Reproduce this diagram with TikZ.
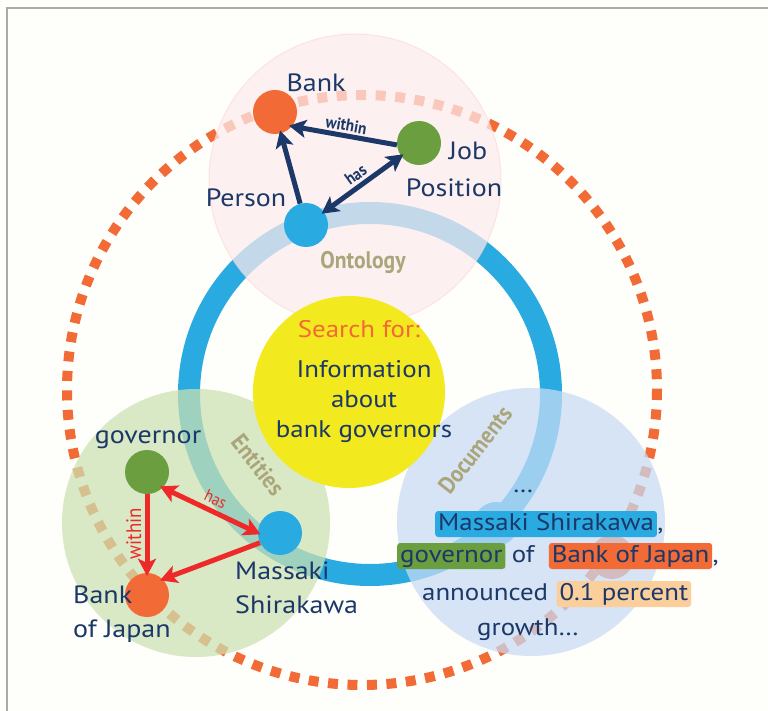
\documentclass[tikz,border=0pt]{standalone}
\usepackage{fontspec}
\setmainfont[FakeStretch=1.12]{PT Sans}
\newfontfamily\narrowfont[FakeStretch=0.9]{PT Sans}
\usetikzlibrary{arrows.meta,positioning}

\definecolor{paper}{RGB}{254,254,250}
\definecolor{framegray}{RGB}{170,170,170}
\definecolor{navy}{RGB}{27,56,104}
\definecolor{ringblue}{RGB}{41,171,226}
\definecolor{bankorange}{RGB}{242,106,53}
\definecolor{jobgreen}{RGB}{106,158,62}
\definecolor{relred}{RGB}{237,41,41}
\definecolor{queryyellow}{RGB}{242,233,30}
\definecolor{ontopink}{RGB}{253,235,237}
\definecolor{entgreen}{RGB}{204,225,178}
\definecolor{docblue}{RGB}{200,219,244}
\definecolor{tagkhaki}{RGB}{170,165,122}
\definecolor{paleorange}{RGB}{251,207,155}

\tikzset{
  >={Stealth[length=17pt,width=18pt,inset=4pt]},
  concept/.style={circle,minimum size=44pt,inner sep=0pt},
  area/.style={fill opacity=0.73},
  lbl/.style={text=navy,font=\fontsize{25}{34}\selectfont,inner sep=0pt,align=left},
  query/.style={font=\fontsize{24}{30}\selectfont,inner sep=0pt,align=center},
  doctext/.style={text=navy,font=\fontsize{24}{34}\selectfont,inner sep=0pt},
  hl/.style={doctext,rounded corners=3pt,inner xsep=3pt,inner ysep=2pt,
    text height=17pt,text depth=5pt},
  ringtag/.style={text=tagkhaki,font=\narrowfont\bfseries\fontsize{24}{24}\selectfont,inner sep=0pt},
  navyrel/.style={draw=navy,line width=5pt},
  redrel/.style={draw=relred,line width=5pt},
  navytag/.style={text=navy,font=\narrowfont\bfseries\fontsize{17}{17}\selectfont,inner sep=1pt},
  redtag/.style={text=relred,font=\narrowfont\fontsize{21}{21}\selectfont,inner sep=1pt},
}

\begin{document}
\begin{tikzpicture}[x=1pt,y=-1pt]
\useasboundingbox (0,0) rectangle (768,711);
\fill[paper] (0,0) rectangle (768,711);
\draw[framegray,line width=2pt] (768,8) -- (7,8) -- (7,711);

% big dotted loop and the ring
\draw[bankorange,line width=10pt,dash pattern=on 10pt off 9.5pt] (362,390) circle[radius=295];
\draw[ringblue,line width=22pt] (370,394) circle[radius=181];

% nodes that sit under the documents area
\node[concept,fill=ringblue] (docperson) at (496,524) {};
\node[concept,fill=bankorange] (docbank) at (612,557) {};

% the three areas
\fill[ontopink,area] (355,180) circle[radius=146];
\draw[ontopink!85!red,opacity=0.4,line width=1pt] (355,180) circle[radius=146];
\fill[entgreen,area] (196,523) circle[radius=134];
\fill[docblue,area] (531,522) circle[radius=134];

% query in the middle
\fill[queryyellow] (349,392) circle[radius=96];
\node[query,text=bankorange,anchor=base] (search) at (359,337) {Search for:};
\node[query,text=navy,anchor=base] (info) at (364,437) {Information\\about\\bank governors};

% ring tags
\node[ringtag] (tagonto) at (363,262) {Ontology};
\node[ringtag,rotate=-52] (tagent) at (258,465) {Entities};
\node[ringtag,rotate=52] (tagdoc) at (475,450) {Documents};

% ontology
\node[concept,fill=bankorange] (bank) at (275,112) {};
\node[concept,fill=jobgreen] (jobpos) at (419,143) {};
\node[concept,fill=ringblue] (person) at (306,225) {};
\node[lbl,anchor=base] (lblbank) at (316,92) {Bank};
\node[lbl,anchor=base] (lbljob) at (468,160) {Job};
\node[lbl,anchor=base] (lblpos) at (454,197) {Position};
\node[lbl,anchor=base] (lblperson) at (246,207) {Person};

\draw[navyrel,<-,shorten <=-3pt] (bank.-40) -- node[navytag,sloped,above=1pt]{within} (jobpos.185);
\draw[navyrel,->,shorten >=-3pt] (person) -- (bank);
\draw[navyrel,<->,shorten <=-3pt,shorten >=-3pt] (person) -- node[navytag,sloped,above=2pt]{has} (jobpos);

% entities
\node[concept,fill=jobgreen] (governor) at (147,472) {};
\node[concept,fill=ringblue] (massaki) at (280,533) {};
\node[concept,fill=bankorange] (bankjp) at (147,595) {};
\node[lbl,anchor=base] (lblgov) at (148,443) {governor};
\node[lbl,anchor=base west] (lblmassaki) at (235,613) {Massaki\\Shirakawa};
\node[lbl,anchor=base west] (lblbankjp) at (73,637) {Bank\\of Japan};

\draw[redrel,<-,shorten <=-3pt] (bankjp) -- node[redtag,sloped,above=2pt]{within} (governor);
\draw[redrel,->,shorten >=-3pt] (massaki.206) -- (bankjp.45);
\draw[redrel,<->,shorten <=-3pt,shorten >=-3pt] (governor.-45) -- node[redtag,font=\narrowfont\fontsize{17}{17}\selectfont,sloped,above=3pt]{has} (massaki.180);

% documents
\node[doctext,anchor=base] (ddots) at (523,492) {\dots};
\node[hl,fill=ringblue,anchor=base west] (dmass) at (435,530) {Massaki Shirakawa};
\node[doctext,anchor=base west] (dcomma1) at (dmass.base east) {,};
\node[hl,fill=jobgreen,anchor=base west] (dgov) at (397,562) {governor};
\node[doctext,anchor=base west] (dof) at ([xshift=6pt]dgov.base east) {of};
\node[hl,fill=bankorange,anchor=base west] (dbank) at ([xshift=14pt]dof.base east) {Bank of Japan};
\node[doctext,anchor=base west] (dcomma2) at (dbank.base east) {,};
\node[doctext,anchor=base west] (dann) at (422,600) {announced};
\node[hl,fill=paleorange,anchor=base west] (dpct) at ([xshift=8pt]dann.base east) {0.1 percent};
\node[doctext,anchor=base west] (dgrowth) at (477,635) {growth\dots};
\end{tikzpicture}
\end{document}
